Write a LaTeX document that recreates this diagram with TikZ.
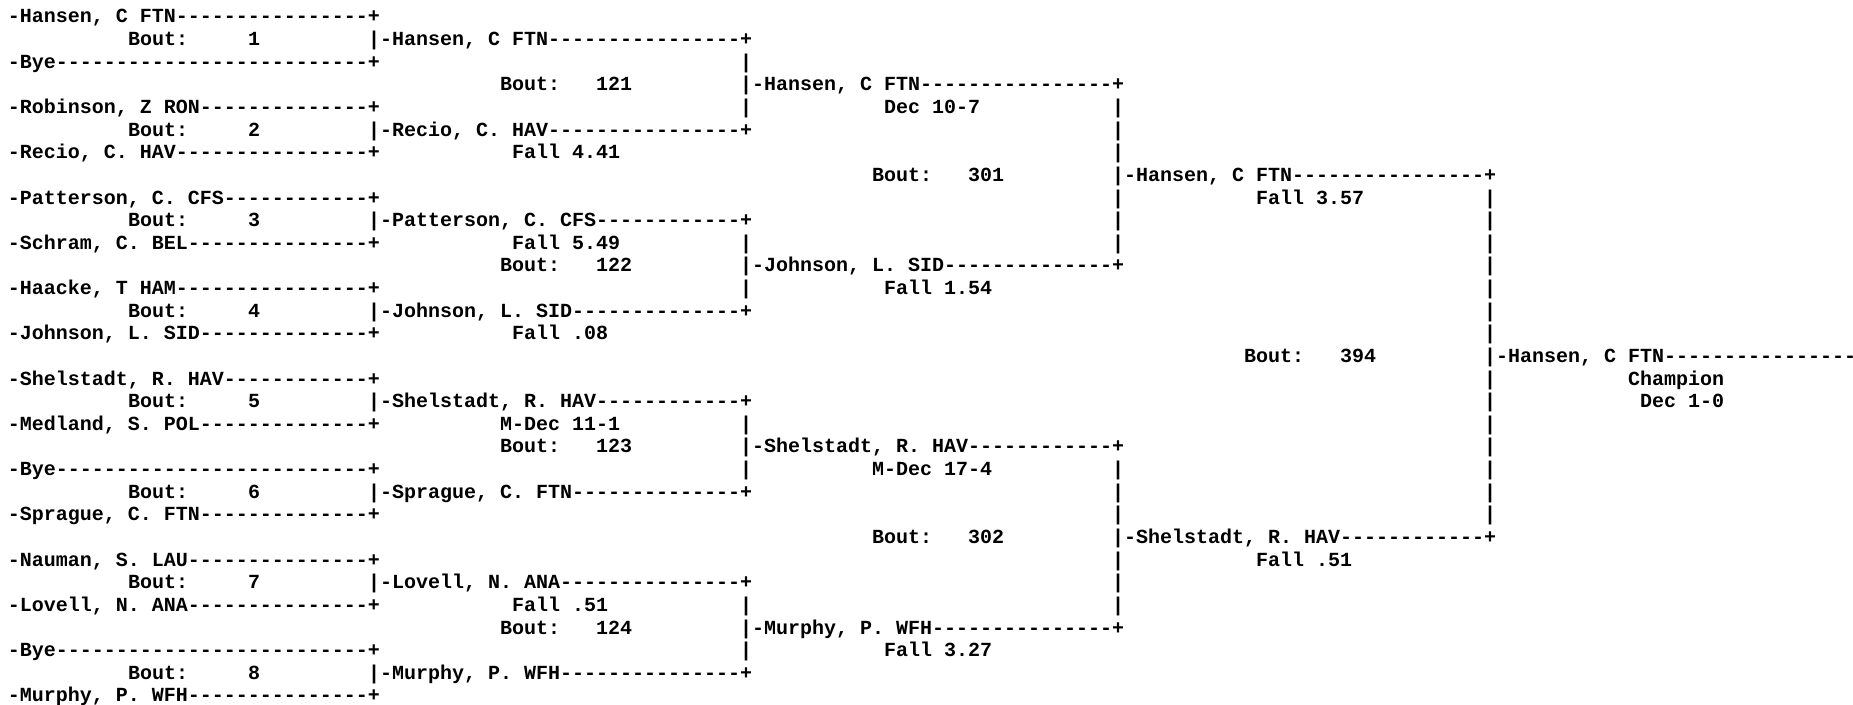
\documentclass[tikz,border=0pt]{standalone}
\usepackage{fontspec}
\setmonofont{Liberation Mono}
\newcommand\dashes[1]{\ifnum#1>0 -\expandafter\dashes\expandafter{\the\numexpr#1-1\relax}\fi}
\newcommand\ent[3]{-#1\dashes{#2}#3}
\tikzset{txt/.style={anchor=base west, inner sep=0pt, outer sep=0pt,
  font=\ttfamily\bfseries\fontsize{10pt}{11pt}\selectfont, text=black}}
\newcommand\T[4]{\node[txt] (#1) at ({8+12*#2},{23+22.63*(#3-1)}) {#4};}
\begin{document}
\begin{tikzpicture}[x=0.5pt,y=-0.5pt]
\useasboundingbox (0,0) rectangle (1853,705);
\clip (0,0) rectangle (1853,705);
\fill[white] (0,0) rectangle (1853,705);
% round 1 entries
\T{e1}{0}{1}{\ent{Hansen, C FTN}{16}{+}}
\T{e2}{0}{3}{\ent{Bye}{26}{+}}
\T{e3}{0}{5}{\ent{Robinson, Z RON}{14}{+}}
\T{e4}{0}{7}{\ent{Recio, C. HAV}{16}{+}}
\T{e5}{0}{9}{\ent{Patterson, C. CFS}{12}{+}}
\T{e6}{0}{11}{\ent{Schram, C. BEL}{15}{+}}
\T{e7}{0}{13}{\ent{Haacke, T HAM}{16}{+}}
\T{e8}{0}{15}{\ent{Johnson, L. SID}{14}{+}}
\T{e9}{0}{17}{\ent{Shelstadt, R. HAV}{12}{+}}
\T{e10}{0}{19}{\ent{Medland, S. POL}{14}{+}}
\T{e11}{0}{21}{\ent{Bye}{26}{+}}
\T{e12}{0}{23}{\ent{Sprague, C. FTN}{14}{+}}
\T{e13}{0}{25}{\ent{Nauman, S. LAU}{15}{+}}
\T{e14}{0}{27}{\ent{Lovell, N. ANA}{15}{+}}
\T{e15}{0}{29}{\ent{Bye}{26}{+}}
\T{e16}{0}{31}{\ent{Murphy, P. WFH}{15}{+}}
% round 1 bouts
\foreach \n/\r in {1/2,2/6,3/10,4/14,5/18,6/22,7/26,8/30}{
  \T{bl\n}{10}{\r}{Bout:}
  \T{bn\n}{20}{\r}{\n}
}
% round 2 entries
\T{f1}{31}{2}{\ent{Hansen, C FTN}{16}{+}}
\T{f2}{31}{6}{\ent{Recio, C. HAV}{16}{+}}
\T{f3}{31}{10}{\ent{Patterson, C. CFS}{12}{+}}
\T{f4}{31}{14}{\ent{Johnson, L. SID}{14}{+}}
\T{f5}{31}{18}{\ent{Shelstadt, R. HAV}{12}{+}}
\T{f6}{31}{22}{\ent{Sprague, C. FTN}{14}{+}}
\T{f7}{31}{26}{\ent{Lovell, N. ANA}{15}{+}}
\T{f8}{31}{30}{\ent{Murphy, P. WFH}{15}{+}}
% round 1 results
\T{r2}{42}{7}{Fall 4.41}
\T{r3}{42}{11}{Fall 5.49}
\T{r4}{42}{15}{Fall .08}
\T{r5}{41}{19}{M-Dec 11-1}
\T{r7}{42}{27}{Fall .51}
% round 2 bouts
\foreach \n/\r in {121/4,122/12,123/20,124/28}{
  \T{cl\n}{41}{\r}{Bout:}
  \T{cn\n}{49}{\r}{\n}
}
% round 3 entries
\T{g1}{62}{4}{\ent{Hansen, C FTN}{16}{+}}
\T{g2}{62}{12}{\ent{Johnson, L. SID}{14}{+}}
\T{g3}{62}{20}{\ent{Shelstadt, R. HAV}{12}{+}}
\T{g4}{62}{28}{\ent{Murphy, P. WFH}{15}{+}}
% round 2 results
\T{s1}{73}{5}{Dec 10-7}
\T{s2}{73}{13}{Fall 1.54}
\T{s3}{72}{21}{M-Dec 17-4}
\T{s4}{73}{29}{Fall 3.27}
% semifinal bouts
\foreach \n/\r in {301/8,302/24}{
  \T{dl\n}{72}{\r}{Bout:}
  \T{dn\n}{80}{\r}{\n}
}
% final entries
\T{h1}{93}{8}{\ent{Hansen, C FTN}{16}{+}}
\T{h2}{93}{24}{\ent{Shelstadt, R. HAV}{12}{+}}
\T{t1}{104}{9}{Fall 3.57}
\T{t2}{104}{25}{Fall .51}
% final bout
\T{fl394}{103}{16}{Bout:}
\T{fn394}{111}{16}{394}
\T{champ}{124}{16}{\ent{Hansen, C FTN}{16}{}}
\T{ch1}{135}{17}{Champion}
\T{ch2}{136}{18}{Dec 1-0}
% vertical bars
\foreach \c/\r in {30/2,30/6,30/10,30/14,30/18,30/22,30/26,30/30,
  61/3,61/4,61/5,61/11,61/12,61/13,61/19,61/20,61/21,61/27,61/28,61/29,
  92/5,92/6,92/7,92/8,92/9,92/10,92/11,92/21,92/22,92/23,92/24,92/25,92/26,92/27,
  123/9,123/10,123/11,123/12,123/13,123/14,123/15,123/16,123/17,123/18,123/19,123/20,123/21,123/22,123/23}{
  \T{bar\c-\r}{\c}{\r}{|}
}
\end{tikzpicture}
\end{document}
